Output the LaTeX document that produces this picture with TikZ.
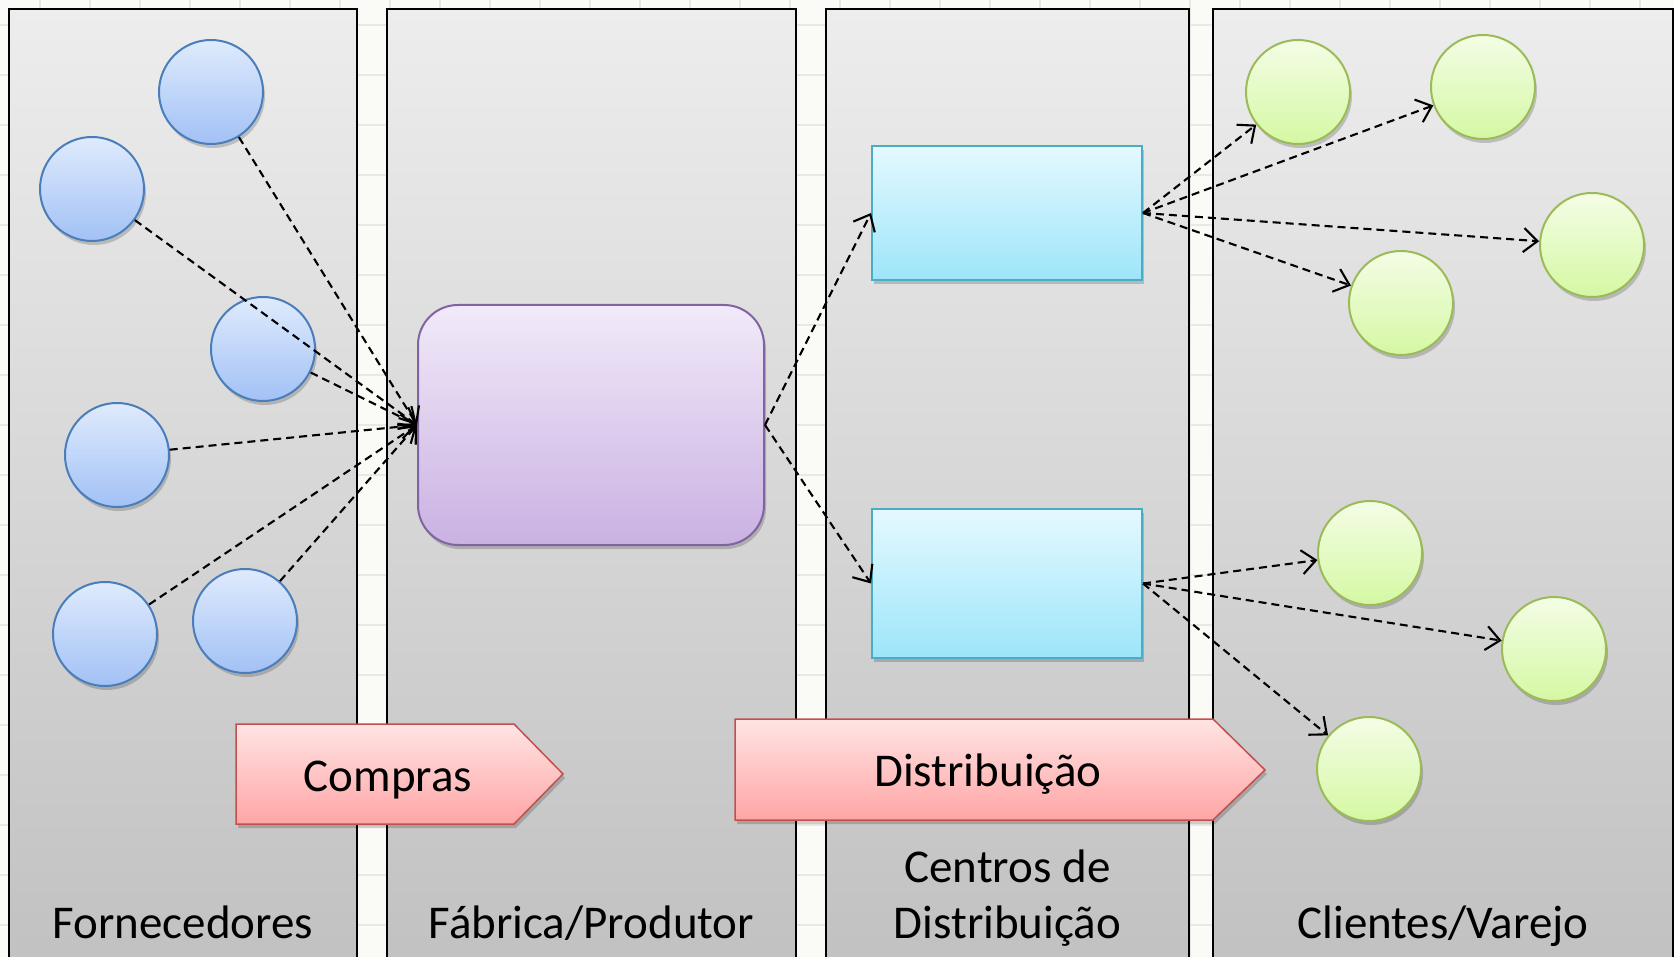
\documentclass[tikz,border=0pt]{standalone}
\usepackage{fontspec}
\setmainfont{Carlito}
\usetikzlibrary{arrows.meta,shadows}
\definecolor{bgc}{HTML}{FAFAF7}
\definecolor{gridc}{HTML}{E9E9E3}
\definecolor{panTop}{HTML}{EDEDED}
\definecolor{panBot}{HTML}{C0C0C0}
\definecolor{blueTop}{HTML}{DFEBFD}
\definecolor{blueBot}{HTML}{A2C1F5}
\definecolor{blueLine}{HTML}{4A7EBB}
\definecolor{purTop}{HTML}{F1EAF9}
\definecolor{purBot}{HTML}{CAB1E2}
\definecolor{purLine}{HTML}{8064A2}
\definecolor{cyTop}{HTML}{E4F9FF}
\definecolor{cyBot}{HTML}{9DE5FA}
\definecolor{cyLine}{HTML}{4BACC6}
\definecolor{grTop}{HTML}{F4FDE6}
\definecolor{grBot}{HTML}{D5F8A3}
\definecolor{grLine}{HTML}{9BBB59}
\definecolor{pkTop}{HTML}{FFE4E4}
\definecolor{pkBot}{HTML}{FFA5A5}
\definecolor{pkLine}{HTML}{C0504D}
\tikzset{
  panelbox/.style={draw=black, line width=2pt, top color=panTop, bottom color=panBot},
  shadowed/.style={drop shadow={shadow xshift=2pt, shadow yshift=-4pt, opacity=0.18, fill=black}},
  bcirc/.style={circle, minimum size=104pt, inner sep=0pt, draw=blueLine, line width=2pt,
    top color=blueTop, bottom color=blueBot, shadowed},
  gcirc/.style={circle, minimum size=104pt, inner sep=0pt, draw=grLine, line width=2pt,
    top color=grTop, bottom color=grBot, shadowed},
  prect/.style={rectangle, rounded corners=40pt, draw=purLine, line width=2pt,
    top color=purTop, bottom color=purBot, minimum width=346pt, minimum height=240pt, shadowed},
  crect/.style={rectangle, draw=cyLine, line width=2pt, top color=cyTop, bottom color=cyBot,
    minimum width=270pt, shadowed},
  pkarrow/.style={draw=pkLine, line width=1.5pt, top color=pkTop, bottom color=pkBot, shadowed},
  conn/.style={draw=black, line width=2.1pt, dash pattern=on 8pt off 5pt,
    -{Straight Barb[length=14pt,width=24pt,line width=2.1pt]}},
  lbl/.style={font=\fontsize{47}{56}\selectfont, inner sep=0pt, align=center, text=black},
}
\begin{document}
\begin{tikzpicture}[x=1pt,y=-1pt]
\useasboundingbox (0,0) rectangle (1674,957);
\fill[bgc] (0,0) rectangle (1674,957);
\foreach \gx in {40,90,...,1670} \draw[gridc, line width=1.5pt] (\gx,0) -- (\gx,957);
\foreach \gy in {25,75,...,957} \draw[gridc, line width=1.5pt] (0,\gy) -- (1674,\gy);

% panels
\draw[panelbox] (9,9) rectangle (357,990);
\draw[panelbox] (387,9) rectangle (796,990);
\draw[panelbox] (826,9) rectangle (1189,990);
\draw[panelbox] (1213,9) rectangle (1673,990);

% suppliers
\node[bcirc] (b1) at (211,92) {};
\node[bcirc] (b2) at (92,189) {};
\node[bcirc] (b3) at (263,349) {};
\node[bcirc] (b4) at (117,455) {};
\node[bcirc] (b5) at (105,634) {};
\node[bcirc] (b6) at (245,621) {};

% factory
\node[prect] (p) at (591,425) {};

% distribution centres
\node[crect, minimum height=134pt] (c1) at (1007,213) {};
\node[crect, minimum height=149pt] (c2) at (1007,583.5) {};

% clients
\node[gcirc] (g1) at (1298,92) {};
\node[gcirc] (g2) at (1483,87) {};
\node[gcirc] (g3) at (1592,245) {};
\node[gcirc] (g4) at (1401,303) {};
\node[gcirc] (g5) at (1370,553) {};
\node[gcirc] (g6) at (1554,649) {};
\node[gcirc] (g7) at (1369,769) {};

% connectors
\foreach \b in {b1,b2,b3,b4,b5,b6} \draw[conn] (\b) -- (p.west);
\draw[conn] (p.east) -- (c1.west);
\draw[conn] (p.east) -- (c2.west);
\foreach \g in {g1,g2,g3,g4} \draw[conn] (c1.east) -- (\g);
\foreach \g in {g5,g6,g7} \draw[conn] (c2.east) -- (\g);

% process arrows
\draw[pkarrow] (236,724) -- (514,724) -- (563,774) -- (514,824) -- (236,824) -- cycle;
\node[lbl, anchor=base] (tcompras) at (388,791) {Compras};
\draw[pkarrow] (735,719) -- (1213,719) -- (1265,770) -- (1213,820) -- (735,820) -- cycle;
\node[lbl, anchor=base] (tdistr) at (988,786) {Distribuição};

% panel labels
\node[lbl, anchor=base] (l1) at (183,938) {Fornecedores};
\node[lbl, anchor=base] (l2) at (591.5,938) {Fábrica/Produtor};
\node[lbl, anchor=base] (l3a) at (1007.5,882) {Centros de};
\node[lbl, anchor=base] (l3b) at (1007.5,938) {Distribuição};
\node[lbl, anchor=base] (l4) at (1443,938) {Clientes/Varejo};
\end{tikzpicture}
\end{document}
